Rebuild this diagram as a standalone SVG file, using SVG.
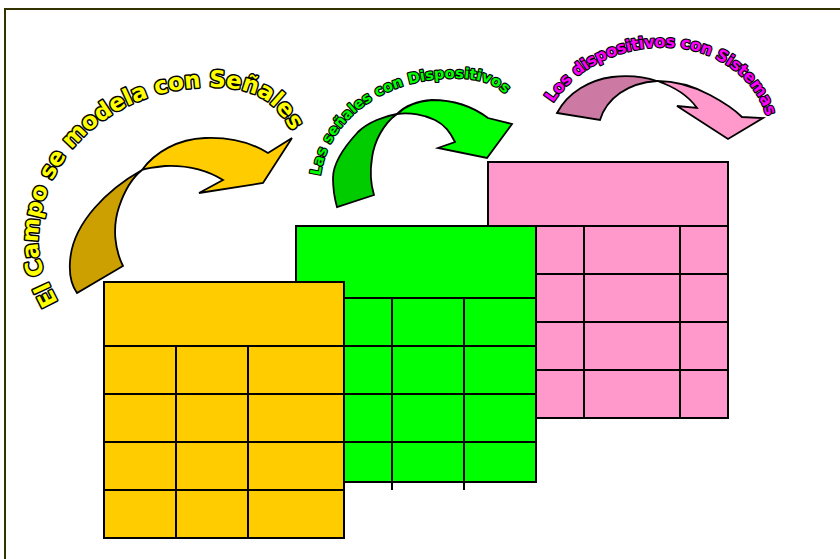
<svg xmlns="http://www.w3.org/2000/svg" width="840" height="559" viewBox="0 0 840 559">
<style>
.cell{stroke:#000;stroke-width:2;}
.ln{stroke:#000;stroke-width:2;fill:none;}
.arr{stroke:#000;stroke-width:1.8;stroke-linejoin:miter;}
.lbl{font-family:"DejaVu Sans","Liberation Sans",Arial,sans-serif;font-weight:bold;stroke:#000;stroke-linejoin:round;paint-order:stroke;}
</style>
<defs>
<path id="pY" d="M58,302 C49,285 38,263 38,243 C38,157 112,88 210,87 C255,87 275,100 293,133"/>
<path id="pG" d="M320,176 C328,122 380,78 455,78 C480,78 500,85 507,97"/>
<path id="pP" d="M553,103 C572,74 610,47 665,47 C720,47 762,84 768,124"/>
</defs>
<rect id="frame" x="5" y="9" width="900" height="600" fill="#fff" stroke="#333300" stroke-width="2"/>

<g id="table-pink">
<rect class="cell" x="488" y="162" width="240" height="256" fill="#FF99CC"/>
<path class="ln" d="M488,226H728M488,274H728M488,322H728M488,370H728M536,226V418M584,226V418M680,226V418"/>
</g>
<g id="table-green">
<rect class="cell" x="296" y="226" width="240" height="256" fill="#00FF00"/>
<path class="ln" d="M296,298H536M296,346H536M296,394H536M296,442H536M392,298V490M464,298V490"/>
</g>
<g id="table-yellow">
<rect class="cell" x="104" y="282" width="240" height="256" fill="#FFCC00"/>
<path class="ln" d="M104,346H344M104,394H344M104,442H344M104,490H344M176,346V538M248,346V538"/>
</g>

<g id="connectors">
<g id="arrow-yellow">
<path class="arr" fill="#CCA000" d="M142,170 C110,188 72,222 70,262 C69,276 72,286 77,293 L123,266 C115,250 112,228 119,207 C124,192 132,178 142,170 Z"/>
<path class="arr" fill="#FFCC00" d="M142,170 C155,152 178,139 205,138 C230,137 252,143 268,153 L292,138 L263,183 L199,193 L223,180 C210,172 190,165 165,166 C155,167 147,168 142,170 Z"/>
</g>
<g id="arrow-green">
<path class="arr" fill="#00CC00" d="M397,114 C385,116 368,122 358,132 C345,146 333,162 333,178 C333,190 335,200 337,207 L374,195 C371,185 370,170 372,158 C374,142 383,124 397,114 Z"/>
<path class="arr" fill="#00FF00" d="M397,114 C405,106 418,101 432,100 C452,100 472,106 488,118 L512,124 L487,158 L438,148 L455,142 C450,132 445,125 435,120 C425,115 410,112 397,114 Z"/>
</g>
<g id="arrow-pink">
<path class="arr" fill="#CC7AA3" d="M657,81 C645,77 630,75 612,77 C590,80 568,92 557,113 L600,120 C603,110 610,100 620,93 C630,86 643,82 657,81 Z"/>
<path class="arr" fill="#FF99CC" d="M657,81 C675,81 695,87 710,95 C725,103 735,110 742,117 L763,118 L728,139 L677,106 L697,108 C690,98 678,88 657,81 Z"/>
</g>
</g>

<g id="labels">
<text class="lbl" font-size="23" fill="#FFFF00" stroke-width="3"><textPath href="#pY" textLength="420" lengthAdjust="spacing">El Campo se modela con Señales</textPath></text>
<text class="lbl" font-size="14.5" fill="#00FF00" stroke-width="2.4"><textPath href="#pG" textLength="236" lengthAdjust="spacing">Las señales con Dispositivos</textPath></text>
<text class="lbl" font-size="16" fill="#FF00FF" stroke-width="2.4"><textPath href="#pP" textLength="262" lengthAdjust="spacing">Los dispositivos con Sistemas</textPath></text>
</g>
</svg>
